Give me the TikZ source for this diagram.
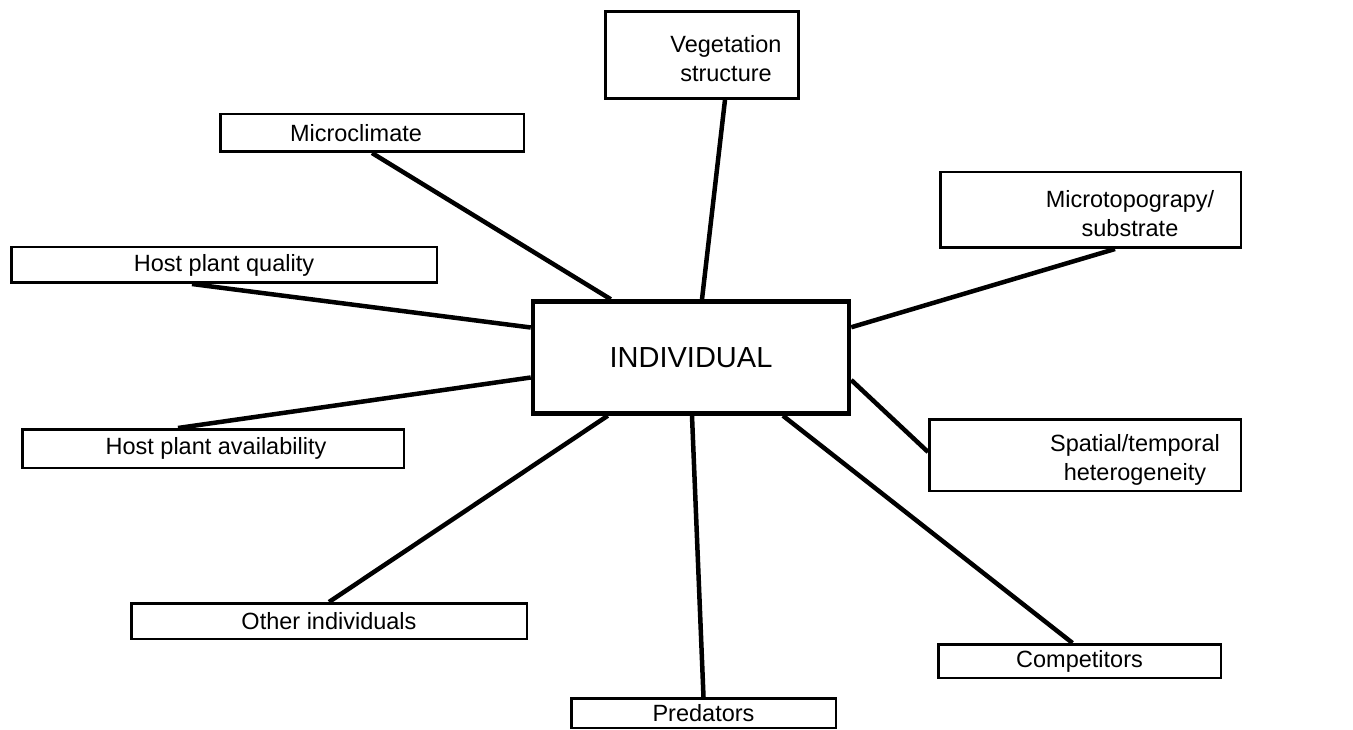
\documentclass[tikz,border=0pt]{standalone}
\usepackage{fontspec}
\setmainfont{Liberation Sans}
\usetikzlibrary{calc}
\begin{document}
\begin{tikzpicture}[x=1pt,y=-1pt,
  box/.style={draw=black, line width=2.5pt, fill=white, inner sep=0pt, align=center,
    font=\fontsize{23.5}{29}\selectfont},
  hub/.style={draw=black, line width=4.5pt, fill=white, inner sep=0pt,
    font=\fontsize{29}{35}\selectfont},
  link/.style={line width=4.5pt}]
\useasboundingbox (0,0) rectangle (1353,730);
\node[hub, minimum width=316pt, minimum height=112pt] (ind) at (691,357.5) {INDIVIDUAL};
\node[box, minimum width=193pt, minimum height=87pt] (veg) at (702,55)
  {\hspace*{48pt}\rule{0pt}{25pt}Vegetation\\\hspace*{48pt}structure};
\node[box, minimum width=303.5pt, minimum height=37.5pt] (mc) at (372,133)
  {\hspace*{-32pt}Microclimate};
\node[box, minimum width=300.5pt, minimum height=75.5pt] (mt) at (1090.5,210)
  {\hspace*{79pt}\rule{0pt}{25pt}Microtopograpy/\\\hspace*{79pt}substrate};
\node[box, minimum width=425.5pt, minimum height=35.5pt] (hq) at (224,265)
  {Host plant quality};
\node[box, minimum width=381.5pt, minimum height=38.5pt] (ha) at (213,448.5)
  {\hspace*{6pt}Host plant availability};
\node[box, minimum width=311.5pt, minimum height=71.5pt] (sp) at (1085,455)
  {\hspace*{100pt}\rule{0pt}{27pt}Spatial/temporal\\\hspace*{100pt}heterogeneity};
\node[box, minimum width=395.5pt, minimum height=35.5pt] (oi) at (329,621)
  {Other individuals};
\node[box, minimum width=282.5pt, minimum height=33.5pt] (comp) at (1079.5,661)
  {Competitors};
\node[box, minimum width=264.5pt, minimum height=29.5pt] (pred) at (703.5,713)
  {Predators};
% connectors
\draw[link] (mc.south) -- ($(ind.north west)+(80,0)$);
\draw[link] ($(veg.south)+(23,0)$) -- ($(ind.north)+(11,0)$);
\draw[link] ($(mt.south)+(24.5,0)$) -- ($(ind.north east)+(0,28)$);
\draw[link] ($(ind.east)+(0,22.5)$) -- ($(sp.west)+(0,-3)$);
\draw[link] ($(ind.south)+(92,0)$) -- ($(comp.north)+(-7,0)$);
\draw[link] ($(ind.south)+(1,0)$) -- (pred.north);
\draw[link] ($(ind.south west)+(77,0)$) -- (oi.north);
\draw[link] ($(ind.west)+(0,20)$) -- ($(ha.north)+(-35,0)$);
\draw[link] ($(ind.west)+(0,-30)$) -- ($(hq.south)+(-32,0)$);
\end{tikzpicture}
\end{document}
